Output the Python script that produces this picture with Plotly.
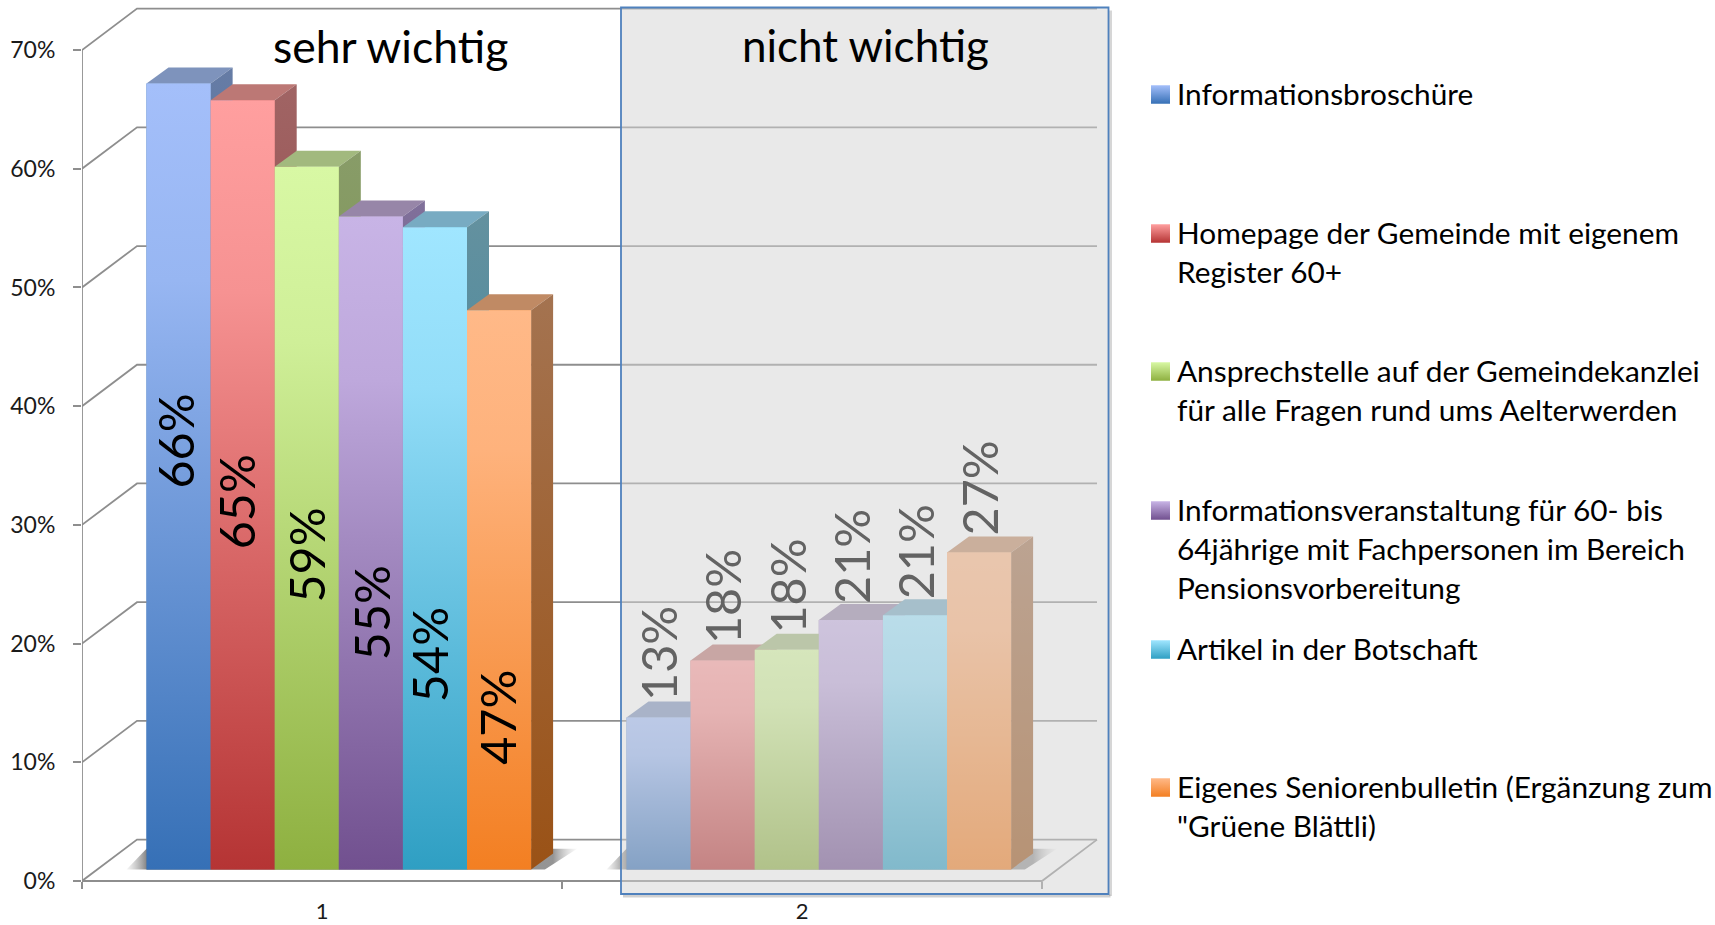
import plotly.graph_objects as go

# ---------- data ----------
SERIES = [
    ["Informationsbroschüre"],
    ["Homepage der Gemeinde mit eigenem", "Register 60+"],
    ["Ansprechstelle auf der Gemeindekanzlei", "für alle Fragen rund ums Aelterwerden"],
    ["Informationsveranstaltung für 60- bis", "64jährige mit Fachpersonen im Bereich", "Pensionsvorbereitung"],
    ["Artikel in der Botschaft"],
    ["Eigenes Seniorenbulletin (Ergänzung zum", "\"Grüene Blättli)"],
]
GROUP_TITLES = ["sehr wichtig", "nicht wichtig"]
CATEGORIES = ["1", "2"]
SEHR_WICHTIG = [66.2, 64.8, 59.2, 55.0, 54.1, 47.1]
NICHT_WICHTIG = [12.8, 17.6, 18.5, 21.0, 21.4, 26.7]
SEHR_LABELS = ["66%", "65%", "59%", "55%", "54%", "47%"]
NICHT_LABELS = ["13%", "18%", "18%", "21%", "21%", "27%"]
Y_TICKS = [0, 10, 20, 30, 40, 50, 60, 70]
Y_TICK_TEXT = ["0%", "10%", "20%", "30%", "40%", "50%", "60%", "70%"]

# ---------- styles ----------
FRONT_TOP = ["#a4bffa", "#ff9f9f", "#d8f8a4", "#c8b4e6", "#a0e6ff", "#ffb988"]
FRONT_BOTTOM = ["#3670b6", "#b53434", "#8eb040", "#71508f", "#2f9fc3", "#f37f22"]
SIDE_TOP = ["#667ca5", "#a06464", "#889c68", "#80709a", "#64919f", "#a47350"]
SIDE_BOTTOM = ["#2d5a92", "#8a2b2b", "#6f8a33", "#5a3f72", "#257f9c", "#9a5216"]
TOP_FACE = ["#7e93bc", "#bc7875", "#a2b97e", "#9786a8", "#78abc2", "#c08a64"]
GRID = "#8e8e8e"
FONT = "Lato"

# ---------- layout geometry (pixels of the 1715x925 page) ----------
W, H = 1715, 925
X0, PX_PER_X = 82.0, 480.0      # x=0 at 82 px, one category = 480 px
Y0, PX_PER_Y = 881.0, 11.871    # 0 % at 881 px


def X(px):
    return (px - X0) / PX_PER_X


def Y(py):
    return (Y0 - py) / PX_PER_Y


WALL_DX, WALL_DY = 55 / PX_PER_X, 41.4 / PX_PER_Y
BAR_W = 64.1 / PX_PER_X
GROUP_CENTER = 0.535
BAR_BASE = 11.6 / PX_PER_Y
DEPTH_X, DEPTH_Y = 22 / PX_PER_X, 16 / PX_PER_Y

LABEL_DROP_SEHR = [358, 402, 388, 396, 427, 407]
LABEL_NUDGE_SEHR = [-4.5, -6.5, -0.8, 0.8, -6, -1.5]
LABEL_DROP_NICHT = -64

LEGEND_ROW_Y = [95, 234, 372, 511, 650, 788]
LEGEND_LINE = 39
LEGEND_TEXT_LIFT = 1.5
SWATCH_L, SWATCH_R, SWATCH_H = 1151, 1170, 18.5
LEGEND_TEXT_X = 1175

fig = go.Figure()


def poly(xs, ys, **kw):
    fig.add_trace(go.Scatter(x=xs + xs[:1], y=ys + ys[:1], mode="lines", fill="toself",
                             line=dict(width=0), hoverinfo="skip", showlegend=False, **kw))


def mix(a, b, t):
    ca = [int(a[k:k + 2], 16) for k in (1, 3, 5)]
    cb = [int(b[k:k + 2], 16) for k in (1, 3, 5)]
    return "rgb(%d,%d,%d)" % tuple(round(p + (q - p) * t) for p, q in zip(ca, cb))


def vgrad(top, bottom, y_low, y_high):
    return dict(type="vertical", start=y_low, stop=y_high,
                colorscale=[[0, bottom], [1, top]])


def front_grad(top, bottom, y_low, y_high):
    return dict(type="vertical", start=y_low, stop=y_high,
                colorscale=[[0, bottom], [0.5, mix(top, bottom, 0.42)],
                            [0.75, mix(top, bottom, 0.12)], [1, top]])


# ---------- wall and floor ----------
gx, gy = [], []
for t in Y_TICKS:
    gx += [0, WALL_DX, 2 + WALL_DX, None]
    gy += [t, t + WALL_DY, t + WALL_DY, None]
gx += [0, 0, None, 0, 2, 2 + WALL_DX]
gy += [0, Y_TICKS[-1], None, 0, 0, WALL_DY]
fig.add_trace(go.Scatter(x=gx, y=gy, mode="lines", line=dict(color=GRID, width=1.8),
                         hoverinfo="skip", showlegend=False))

# ---------- floor shadows ----------
SHADOW_L, SHADOW_R = 20 / PX_PER_X, 46 / PX_PER_X
for g in range(2):
    left = g + GROUP_CENTER - 3 * BAR_W
    right = g + GROUP_CENTER + 3 * BAR_W
    x_a, x_b = left - SHADOW_L, right + SHADOW_R
    span = x_b - x_a
    poly([x_a, right + SHADOW_R * 0.3, x_b, left],
         [BAR_BASE, BAR_BASE, BAR_BASE + 1.75, BAR_BASE + 1.75],
         fillgradient=dict(type="horizontal", start=x_a, stop=x_b, colorscale=[
             [0, "rgba(170,170,170,0.1)"], [SHADOW_L / span, "rgba(120,120,120,0.9)"],
             [(right + DEPTH_X - x_a) / span, "rgba(130,130,130,0.85)"], [1, "rgba(200,200,200,0.1)"]]))

# ---------- bars ----------
for i in range(len(SERIES)):
    centers = [g + GROUP_CENTER + (i - 2.5) * BAR_W for g in range(2)]
    fig.add_trace(go.Bar(x=centers, y=[SEHR_WICHTIG[i], NICHT_WICHTIG[i]], base=BAR_BASE, width=BAR_W,
                         marker=dict(color=FRONT_BOTTOM[i], line=dict(width=0)),
                         name=" ".join(SERIES[i]), showlegend=False))

for g, values in enumerate([SEHR_WICHTIG, NICHT_WICHTIG]):
    for i, v in enumerate(values):
        x0 = g + GROUP_CENTER + (i - 3) * BAR_W
        x1 = x0 + BAR_W
        b, t = BAR_BASE, BAR_BASE + v
        poly([x0, x1, x1 + DEPTH_X, x0 + DEPTH_X], [t, t, t + DEPTH_Y, t + DEPTH_Y], fillcolor=TOP_FACE[i])
        poly([x1, x1 + DEPTH_X, x1 + DEPTH_X, x1], [b, b + DEPTH_Y, t + DEPTH_Y, t],
             fillgradient=vgrad(SIDE_TOP[i], SIDE_BOTTOM[i], b, t + DEPTH_Y))
        poly([x0, x1, x1, x0], [b, b, t, t],
             fillgradient=front_grad(FRONT_TOP[i], FRONT_BOTTOM[i], b, t))

# ---------- legend swatches ----------
for i, row in enumerate(LEGEND_ROW_Y):
    y_t, y_b = Y(row - SWATCH_H / 2 - 0.5), Y(row + SWATCH_H / 2 - 0.5)
    poly([X(SWATCH_L), X(SWATCH_R), X(SWATCH_R), X(SWATCH_L)], [y_b, y_b, y_t, y_t],
         fillgradient=vgrad(FRONT_TOP[i], FRONT_BOTTOM[i], y_b, y_t))

# ---------- annotations ----------
ann = []


def text(x, y, s, size, color="#000000", angle=0, xanchor="center"):
    ann.append(dict(x=x, y=y, xref="x", yref="y", text=s, showarrow=False, textangle=angle,
                    xanchor=xanchor, yanchor="middle", font=dict(family=FONT, size=size, color=color)))


for i, v in enumerate(SEHR_WICHTIG):
    cx = GROUP_CENTER + (i - 2.5) * BAR_W + LABEL_NUDGE_SEHR[i] / PX_PER_X
    text(cx, BAR_BASE + v - LABEL_DROP_SEHR[i] / PX_PER_Y, SEHR_LABELS[i], 48.5, angle=-90)
for i, v in enumerate(NICHT_WICHTIG):
    cx = 1 + GROUP_CENTER + (i - 2.5) * BAR_W
    text(cx, BAR_BASE + v - LABEL_DROP_NICHT / PX_PER_Y, NICHT_LABELS[i], 48.5, color="#636363", angle=-90)

text(X(390.6), Y(45), GROUP_TITLES[0], 44.5)
text(X(865), Y(45), GROUP_TITLES[1], 44)

for row, lines in zip(LEGEND_ROW_Y, SERIES):
    for j, line in enumerate(lines):
        text(X(LEGEND_TEXT_X), Y(row + j * LEGEND_LINE - LEGEND_TEXT_LIFT), line, 29.8, xanchor="left")

# ---------- translucent panel over the second group ----------
P_L, P_R, P_T, P_B = 621, 1108.5, 7.5, 894
shapes = [
    dict(type="line", x0=X(P_L + 2), x1=X(P_R + 2), y0=Y(P_B + 2), y1=Y(P_B + 2), layer="above",
         line=dict(color="rgba(120,120,120,0.35)", width=3)),
    dict(type="line", x0=X(P_R + 2), x1=X(P_R + 2), y0=Y(P_T + 3), y1=Y(P_B + 2), layer="above",
         line=dict(color="rgba(120,120,120,0.3)", width=3)),
    dict(type="rect", x0=X(P_L), x1=X(P_R), y0=Y(P_B), y1=Y(P_T), layer="above",
         fillcolor="rgba(211,211,211,0.5)", line=dict(color="#4f81bd", width=1.8)),
]

fig.update_layout(
    width=W, height=H, margin=dict(l=0, r=0, t=0, b=0, pad=0),
    paper_bgcolor="white", plot_bgcolor="white", barmode="overlay", showlegend=False,
    annotations=ann, shapes=shapes,
    xaxis=dict(domain=[X0 / W, 1], range=[0, X(W)], showgrid=False, zeroline=False, showline=False,
               automargin=False, anchor="free", position=(H - Y0) / H,
               tickmode="array", tickvals=[0.5, 1.5], ticktext=CATEGORIES, ticks="",
               ticklabelstandoff=15, tickfont=dict(family=FONT, size=22, color="#1a1a1a"),
               minor=dict(tickmode="array", tickvals=[0, 1, 2], ticks="outside", ticklen=7,
                          tickcolor=GRID, tickwidth=1.5, showgrid=False)),
    yaxis=dict(domain=[0, 1], range=[Y(H), Y(0)], showgrid=False, zeroline=False, showline=False,
               automargin=False,
               tickmode="array", tickvals=Y_TICKS, ticktext=Y_TICK_TEXT, ticks="outside", ticklen=8,
               tickcolor=GRID, tickwidth=1.8, ticklabelstandoff=13,
               tickfont=dict(family=FONT, size=23, color="#1a1a1a")),
)

fig.write_html("out.html", config={"displayModeBar": False},
               post_script="document.body.style.margin='0';document.body.style.overflow='hidden';")
